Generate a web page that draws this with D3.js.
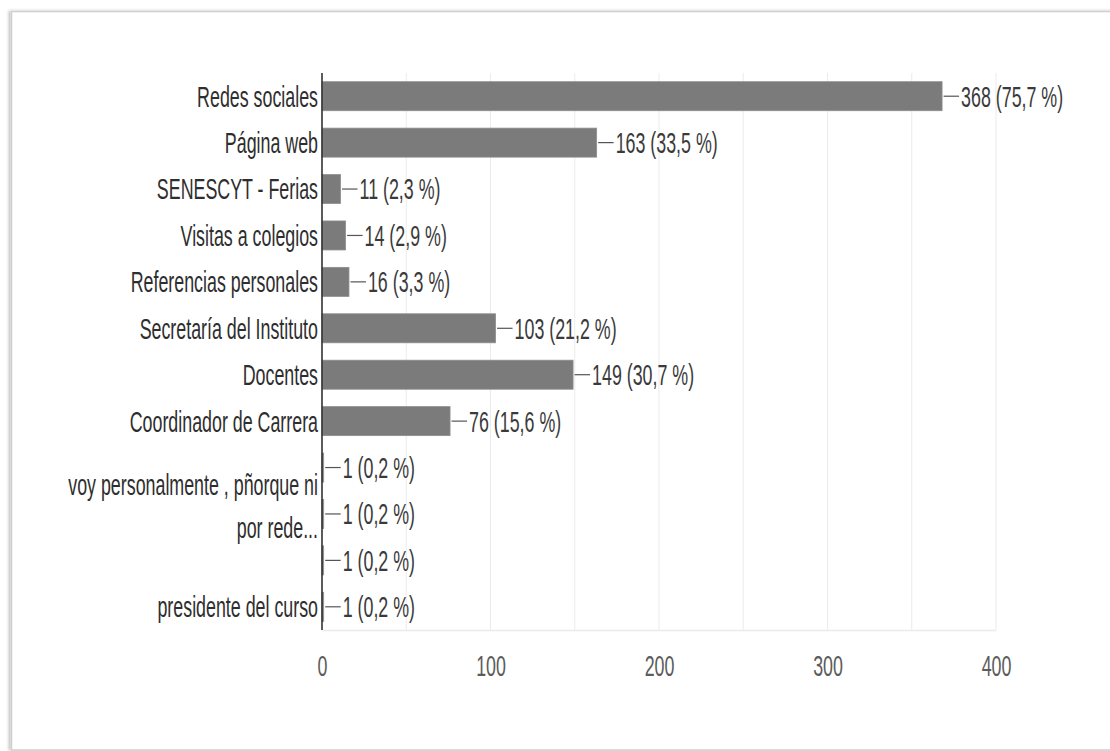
<!DOCTYPE html>
<html>
<head>
<meta charset="utf-8">
<script src="https://cdn.jsdelivr.net/npm/d3@7"></script>
<style>
  html, body { margin: 0; padding: 0; background: #fff; }
  svg { display: block; }
  text { font-family: "Liberation Sans", Arial, sans-serif; }
</style>
</head>
<body>
<svg id="chart" width="1110" height="751"></svg>
<script>
// Response categories ("|" marks a line break in the label)
const labels = [
  "Redes sociales",
  "Página web",
  "SENESCYT - Ferias",
  "Visitas a colegios",
  "Referencias personales",
  "Secretaría del Instituto",
  "Docentes",
  "Coordinador de Carrera",
  "",
  "voy personalmente , pñorque ni|por rede...",
  "",
  "presidente del curso"
];
// Number of responses per category
const counts = [368, 163, 11, 14, 16, 103, 149, 76, 1, 1, 1, 1];
// Share of respondents, as printed next to each bar
const percents = ["75,7", "33,5", "2,3", "2,9", "3,3", "21,2", "30,7", "15,6", "0,2", "0,2", "0,2", "0,2"];
// X axis ticks
const xTicks = [0, 100, 200, 300, 400];
const gridValues = [50, 100, 150, 200, 250, 300, 350, 400];

const FONT = 29;          // label font size
const SQUEEZE = 0.615;    // narrow typeface: horizontal compression of glyphs

const svg = d3.select("#chart");

// Card frame with soft shadow
const defs = svg.append("defs");
const sh = defs.append("filter").attr("id", "shadow")
  .attr("x", "-5%").attr("y", "-5%").attr("width", "110%").attr("height", "110%");
sh.append("feDropShadow").attr("dx", -2).attr("dy", 0).attr("stdDeviation", 1.6)
  .attr("flood-color", "#000").attr("flood-opacity", 0.25);

svg.append("rect")
  .attr("x", 11.5).attr("y", 11.5)
  .attr("width", 1120).attr("height", 738.5)
  .attr("fill", "#fff")
  .attr("stroke", "#cfcfcf").attr("stroke-width", 1.5)
  .attr("filter", "url(#shadow)");

const x = d3.scaleLinear().domain([0, 400]).range([322, 996]);
const y = d3.scaleBand()
  .domain(d3.range(labels.length))
  .range([73, 630])
  .paddingInner(0.375)
  .paddingOuter(0.1875);

// Vertical gridlines
svg.append("g").selectAll("line").data(gridValues).join("line")
  .attr("x1", d => x(d)).attr("x2", d => x(d))
  .attr("y1", 73).attr("y2", 630)
  .attr("stroke", "#ebebeb").attr("stroke-width", 1);

// Baseline at the bottom of the plot
svg.append("line")
  .attr("x1", x(0)).attr("x2", x(400))
  .attr("y1", 630.5).attr("y2", 630.5)
  .attr("stroke", "#ebebeb").attr("stroke-width", 1.5);

// Bars
svg.append("g").selectAll("rect").data(counts).join("rect")
  .attr("x", x(0))
  .attr("y", (d, i) => y(i))
  .attr("width", d => x(d) - x(0))
  .attr("height", y.bandwidth())
  .attr("fill", "#7b7b7b")
  .attr("stroke", "#8e8e8e").attr("stroke-width", 0.8);

// Value labels with leader lines
const vl = svg.append("g").selectAll("g").data(counts).join("g")
  .attr("transform", (d, i) => `translate(${x(d)},${y(i) + y.bandwidth() / 2})`);
vl.append("line")
  .attr("x1", 1.5).attr("x2", 17)
  .attr("y1", 0).attr("y2", 0)
  .attr("stroke", "#555").attr("stroke-width", 1.2);
vl.append("text")
  .attr("transform", `translate(19,0) scale(${SQUEEZE},1)`)
  .attr("dy", "0.36em")
  .attr("font-size", FONT)
  .attr("fill", "#3a3a3a")
  .text((d, i) => `${d} (${percents[i]} %)`);

// Category axis
const yAxis = svg.append("g")
  .attr("transform", `translate(${x(0)},0)`)
  .call(d3.axisLeft(y).tickSize(0).tickFormat(""));
yAxis.select(".domain")
  .attr("d", "M0,73V630")
  .attr("stroke", "#333").attr("stroke-width", 1.6);

yAxis.selectAll(".tick").each(function (i) {
  const parts = labels[i].split("|");
  const t = d3.select(this).append("text")
    .attr("transform", `translate(-4,0) scale(${SQUEEZE},1)`)
    .attr("text-anchor", "end")
    .attr("font-size", FONT)
    .attr("fill", "#2e2e2e");
  if (parts.length === 1) {
    t.attr("dy", "0.36em").text(parts[0]);
  } else {
    t.append("tspan").attr("x", 0).attr("y", -19).text(parts[0]);
    t.append("tspan").attr("x", 0).attr("y", 24).text(parts[1]);
  }
});

// Value axis
const xAxis = svg.append("g")
  .attr("transform", "translate(0,630)")
  .call(d3.axisBottom(x).tickValues(xTicks).tickSize(0).tickFormat(d3.format("d")));
xAxis.select(".domain").remove();
xAxis.selectAll("text")
  .attr("y", 46).attr("dy", 0)
  .attr("transform", `scale(${SQUEEZE},1)`)
  .attr("font-size", FONT)
  .attr("font-family", "\"Liberation Sans\", Arial, sans-serif")
  .attr("fill", "#5c5c5c");
</script>
</body>
</html>
